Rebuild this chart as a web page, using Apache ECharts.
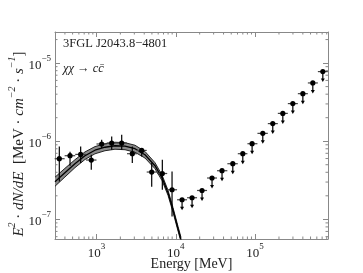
<!DOCTYPE html>
<html><head><meta charset="utf-8">
<script src="https://cdn.jsdelivr.net/npm/echarts@6/dist/echarts.min.js"></script>
<style>html,body{margin:0;padding:0;background:#fff}#c{width:363px;height:273px}</style>
</head><body><div id="c"></div>
<script>
// ---- data ----
const xMajorTicks = [1e3, 1e4, 1e5];
const yMajorTicks = [1e-7, 1e-6, 1e-5];
const xMinorTicks = [400,500,600,700,800,900,2000,3000,4000,5000,6000,7000,8000,9000,
  20000,30000,40000,50000,60000,70000,80000,90000,200000,300000,400000,500000,600000,700000,800000];
const yMinorTicks = [6e-8,7e-8,8e-8,9e-8,2e-7,3e-7,4e-7,5e-7,6e-7,7e-7,8e-7,9e-7,
  2e-6,3e-6,4e-6,5e-6,6e-6,7e-6,8e-6,9e-6,2e-5];

// detected flux points
const detE   = [340,464,632,860,1163,1556,2080,2830,3718,4970,6766,8970];
const detF   = [5.97e-7,6.52e-7,6.78e-7,5.74e-7,9.21e-7,9.48e-7,9.48e-7,6.92e-7,7.62e-7,4.03e-7,3.86e-7,2.39e-7];
const detFHi = [8.58e-7,7.33e-7,8.58e-7,6.71e-7,1.045e-6,1.153e-6,1.21e-6,8.58e-7,8.18e-7,5.30e-7,5.80e-7,4.10e-7];
const detFLo = [3.05e-7,4.86e-7,5.26e-7,4.31e-7,8.18e-7,7.78e-7,7.78e-7,5.26e-7,6.38e-7,2.61e-7,2.39e-7,1.09e-7];
const detELo = [297,397,540,738,1000,1345,1799,2426,3245,4300,5794,7796];
const detEHi = [397,540,738,1000,1345,1799,2426,3245,4300,5794,7796,10380];

// upper limits
const ulE   = [12000,16040,21430,28640,38280,52330,69950,91660,125000,167000,223600,299000,400000,534000,714000];
const ulF   = [1.78e-7,1.89e-7,2.34e-7,3.38e-7,4.19e-7,5.15e-7,6.92e-7,9.29e-7,1.26e-6,1.68e-6,2.27e-6,3.03e-6,4.06e-6,5.57e-6,7.78e-6];
const ulELo = [10380,13870,18540,24780,33120,44680,60490,80000,107000,144600,193400,258600,345800,462400,618300];
const ulEHi = [13870,18540,24780,33120,44680,60490,80000,107000,144600,193400,258600,345800,462400,618300,826000];

// model curve (chi chi -> c cbar) and its uncertainty band
const modelE  = [300,400,535,716,957,1280,1712,2290,3060,4090,5470,6710,7980,9230,10680,11650];
const modelF  = [3.03e-7,3.95e-7,5.15e-7,6.52e-7,7.67e-7,8.37e-7,8.75e-7,8.63e-7,8.01e-7,6.71e-7,4.86e-7,3.40e-7,2.19e-7,1.32e-7,7.55e-8,5.46e-8];
const modelHi = [3.46e-7,4.49e-7,5.79e-7,7.29e-7,8.53e-7,9.28e-7,9.70e-7,9.57e-7,8.88e-7,7.39e-7,5.31e-7,3.69e-7,2.36e-7,1.41e-7,8.08e-8,5.84e-8];
const modelLo = [2.65e-7,3.48e-7,4.58e-7,5.83e-7,6.90e-7,7.55e-7,7.89e-7,7.78e-7,7.22e-7,6.09e-7,4.45e-7,3.13e-7,2.03e-7,1.23e-7,7.06e-8,5.10e-8];

const X_MIN = 300, X_MAX = 8.3e5, Y_MIN = 5.6e-8, Y_MAX = 2.5e-5;
const sourceName = '3FGL J2043.8\u22124801';
const channelName = '\u03c7\u03c7 \u2192 cc\u0304';

// ---- chart ----
const FONT = '"Liberation Serif","DejaVu Serif",serif';
const AX = '#888';
const chart = echarts.init(document.getElementById('c'));

function isMajor(v, list) { return list.some(t => Math.abs(Math.log10(v) - Math.log10(t)) < 1e-6); }
function supLabel(v) {
  const e = Math.round(Math.log10(v));
  return '{b|10}{s|' + (e < 0 ? '\u2212' + (-e) : e) + '}';
}
const labelRich = {
  b: {fontFamily: FONT, fontSize: 13, color: '#222', lineHeight: 18, verticalAlign: 'bottom'},
  s: {fontFamily: FONT, fontSize: 9, color: '#222', lineHeight: 10, verticalAlign: 'top'}
};
const tickStyle = {show: true, inside: true, length: 5, lineStyle: {color: AX, width: 1}};

const grid = {left: 55, right: 35, top: 32, bottom: 34, containLabel: false, outerBoundsMode: 'none'};

const modelPts = modelE.map((e, i) => [e, modelF[i]]);

chart.setOption({
  animation: false,
  grid: grid,
  xAxis: [
    {type: 'log', min: X_MIN, max: X_MAX, position: 'bottom',
     axisLine: {lineStyle: {color: AX}}, axisTick: tickStyle, splitLine: {show: false},
     axisLabel: {margin: 3, formatter: v => isMajor(v, xMajorTicks) ? supLabel(v) : '', rich: labelRich},
     name: 'Energy [MeV]', nameLocation: 'middle', nameGap: 18, nameMoveOverlap: false,
     nameTextStyle: {fontFamily: FONT, fontSize: 14, color: '#222'}},
    {type: 'log', min: X_MIN, max: X_MAX, position: 'top',
     axisLine: {lineStyle: {color: AX}}, axisTick: tickStyle, axisLabel: {show: false}, splitLine: {show: false}}
  ],
  yAxis: [
    {type: 'log', min: Y_MIN, max: Y_MAX, position: 'left',
     axisLine: {lineStyle: {color: AX}}, axisTick: tickStyle, splitLine: {show: false},
     axisLabel: {margin: 4, formatter: v => isMajor(v, yMajorTicks) ? supLabel(v) : '', rich: labelRich},
     name: '{i|E}{s|2}{r| \u00b7 }{i|dN/dE}{r|  [MeV \u00b7 }{i|cm}{s|\u22122}{r| \u00b7 }{i|s}{s|\u22121}{r|]}',
     nameLocation: 'middle', nameGap: 28, nameRotate: 90, nameMoveOverlap: false,
     nameTextStyle: {padding: [0, 17, 0, 0], rich: {
       i: {fontFamily: FONT, fontStyle: 'italic', fontSize: 15, color: '#222', lineHeight: 20, verticalAlign: 'bottom'},
       r: {fontFamily: FONT, fontSize: 15, color: '#222', lineHeight: 20, verticalAlign: 'bottom'},
       s: {fontFamily: FONT, fontStyle: 'italic', fontSize: 10, color: '#222', lineHeight: 11, verticalAlign: 'top'}
     }}},
    {type: 'log', min: Y_MIN, max: Y_MAX, position: 'right',
     axisLine: {lineStyle: {color: AX}}, axisTick: tickStyle, axisLabel: {show: false}, splitLine: {show: false}}
  ],
  graphic: [
    {type: 'text', left: 63, top: 37, style: {text: sourceName, font: '12.5px ' + FONT, fill: '#222'}},
    {type: 'text', left: 63, top: 62, style: {text: channelName, font: 'italic 12.5px ' + FONT, fill: '#222'}}
  ],
  series: [
    // minor ticks, x
    {type: 'custom', silent: true, clip: false, xAxisIndex: 0, yAxisIndex: 0,
     data: xMinorTicks.map(v => [v, Y_MIN]), encode: {x: 0, y: 1},
     renderItem: (params, api) => {
       const cs = params.coordSys; const x = api.coord([api.value(0), api.value(1)])[0];
       const b = cs.y + cs.height, t = cs.y;
       return {type: 'group', children: [
         {type: 'line', shape: {x1: x, y1: b, x2: x, y2: b - 2.5}, style: {stroke: AX, lineWidth: 1}},
         {type: 'line', shape: {x1: x, y1: t, x2: x, y2: t + 2.5}, style: {stroke: AX, lineWidth: 1}}
       ]};
     }},
    // minor ticks, y
    {type: 'custom', silent: true, clip: false, xAxisIndex: 0, yAxisIndex: 0,
     data: yMinorTicks.map(v => [X_MIN, v]), encode: {x: 0, y: 1},
     renderItem: (params, api) => {
       const cs = params.coordSys; const y = api.coord([api.value(0), api.value(1)])[1];
       const l = cs.x, r = cs.x + cs.width;
       return {type: 'group', children: [
         {type: 'line', shape: {x1: l, y1: y, x2: l + 2.5, y2: y}, style: {stroke: AX, lineWidth: 1}},
         {type: 'line', shape: {x1: r, y1: y, x2: r - 2.5, y2: y}, style: {stroke: AX, lineWidth: 1}}
       ]};
     }},
    // model band
    {type: 'custom', silent: true, clip: true,
     data: modelE.map((e, i) => [e, modelF[i]]), encode: {x: 0, y: 1},
     renderItem: (params, api) => {
       if (params.dataIndex !== 0) return null;
       const up = modelE.map((e, i) => api.coord([e, modelHi[i]]));
       const lo = modelE.map((e, i) => api.coord([e, modelLo[i]]));
       const poly = up.concat(lo.slice().reverse());
       return {type: 'group', children: [
         {type: 'polygon', shape: {points: poly, smooth: 0}, style: {fill: '#8a8a8a', stroke: null}},
         {type: 'polyline', shape: {points: up}, style: {stroke: '#111', lineWidth: 0.9, fill: null}},
         {type: 'polyline', shape: {points: lo}, style: {stroke: '#111', lineWidth: 0.9, fill: null}}
       ]};
     }},
    // model central line
    {type: 'line', data: modelPts, showSymbol: false, symbol: 'none', silent: true, clip: true,
     lineStyle: {color: '#000', width: 1.3}, z: 3},
    // detections
    {type: 'custom', silent: true, clip: false, z: 4,
     data: detE.map((e, i) => [e, detF[i], detELo[i], detEHi[i], detFLo[i], detFHi[i]]),
     encode: {x: 0, y: 1},
     renderItem: (params, api) => {
       const e = api.value(0), f = api.value(1);
       const c = api.coord([e, f]);
       const pl = api.coord([api.value(2), f]), pr = api.coord([api.value(3), f]);
       const pb = api.coord([e, api.value(4)]), pt = api.coord([e, api.value(5)]);
       return {type: 'group', children: [
         {type: 'line', shape: {x1: pl[0], y1: c[1], x2: pr[0], y2: c[1]}, style: {stroke: '#444', lineWidth: 1.2}},
         {type: 'line', shape: {x1: c[0], y1: pt[1], x2: c[0], y2: pb[1]}, style: {stroke: '#000', lineWidth: 1.2}},
         {type: 'circle', shape: {cx: c[0], cy: c[1], r: 2.6}, style: {fill: '#000'}}
       ]};
     }},
    // upper limits
    {type: 'custom', silent: true, clip: false, z: 4,
     data: ulE.map((e, i) => [e, ulF[i], ulELo[i], ulEHi[i]]),
     encode: {x: 0, y: 1},
     renderItem: (params, api) => {
       const e = api.value(0), f = api.value(1);
       const c = api.coord([e, f]);
       const pl = api.coord([api.value(2), f]), pr = api.coord([api.value(3), f]);
       const x = c[0], y = c[1];
       return {type: 'group', children: [
         {type: 'line', shape: {x1: pl[0], y1: y, x2: pr[0], y2: y}, style: {stroke: '#444', lineWidth: 1.2}},
         {type: 'line', shape: {x1: x, y1: y, x2: x, y2: y + 8}, style: {stroke: '#000', lineWidth: 1.2}},
         {type: 'polygon', shape: {points: [[x - 2, y + 7], [x + 2, y + 7], [x, y + 10.5]]}, style: {fill: '#000'}},
         {type: 'circle', shape: {cx: x, cy: y, r: 2.6}, style: {fill: '#000'}}
       ]};
     }}
  ]
});
</script>
</body></html>
